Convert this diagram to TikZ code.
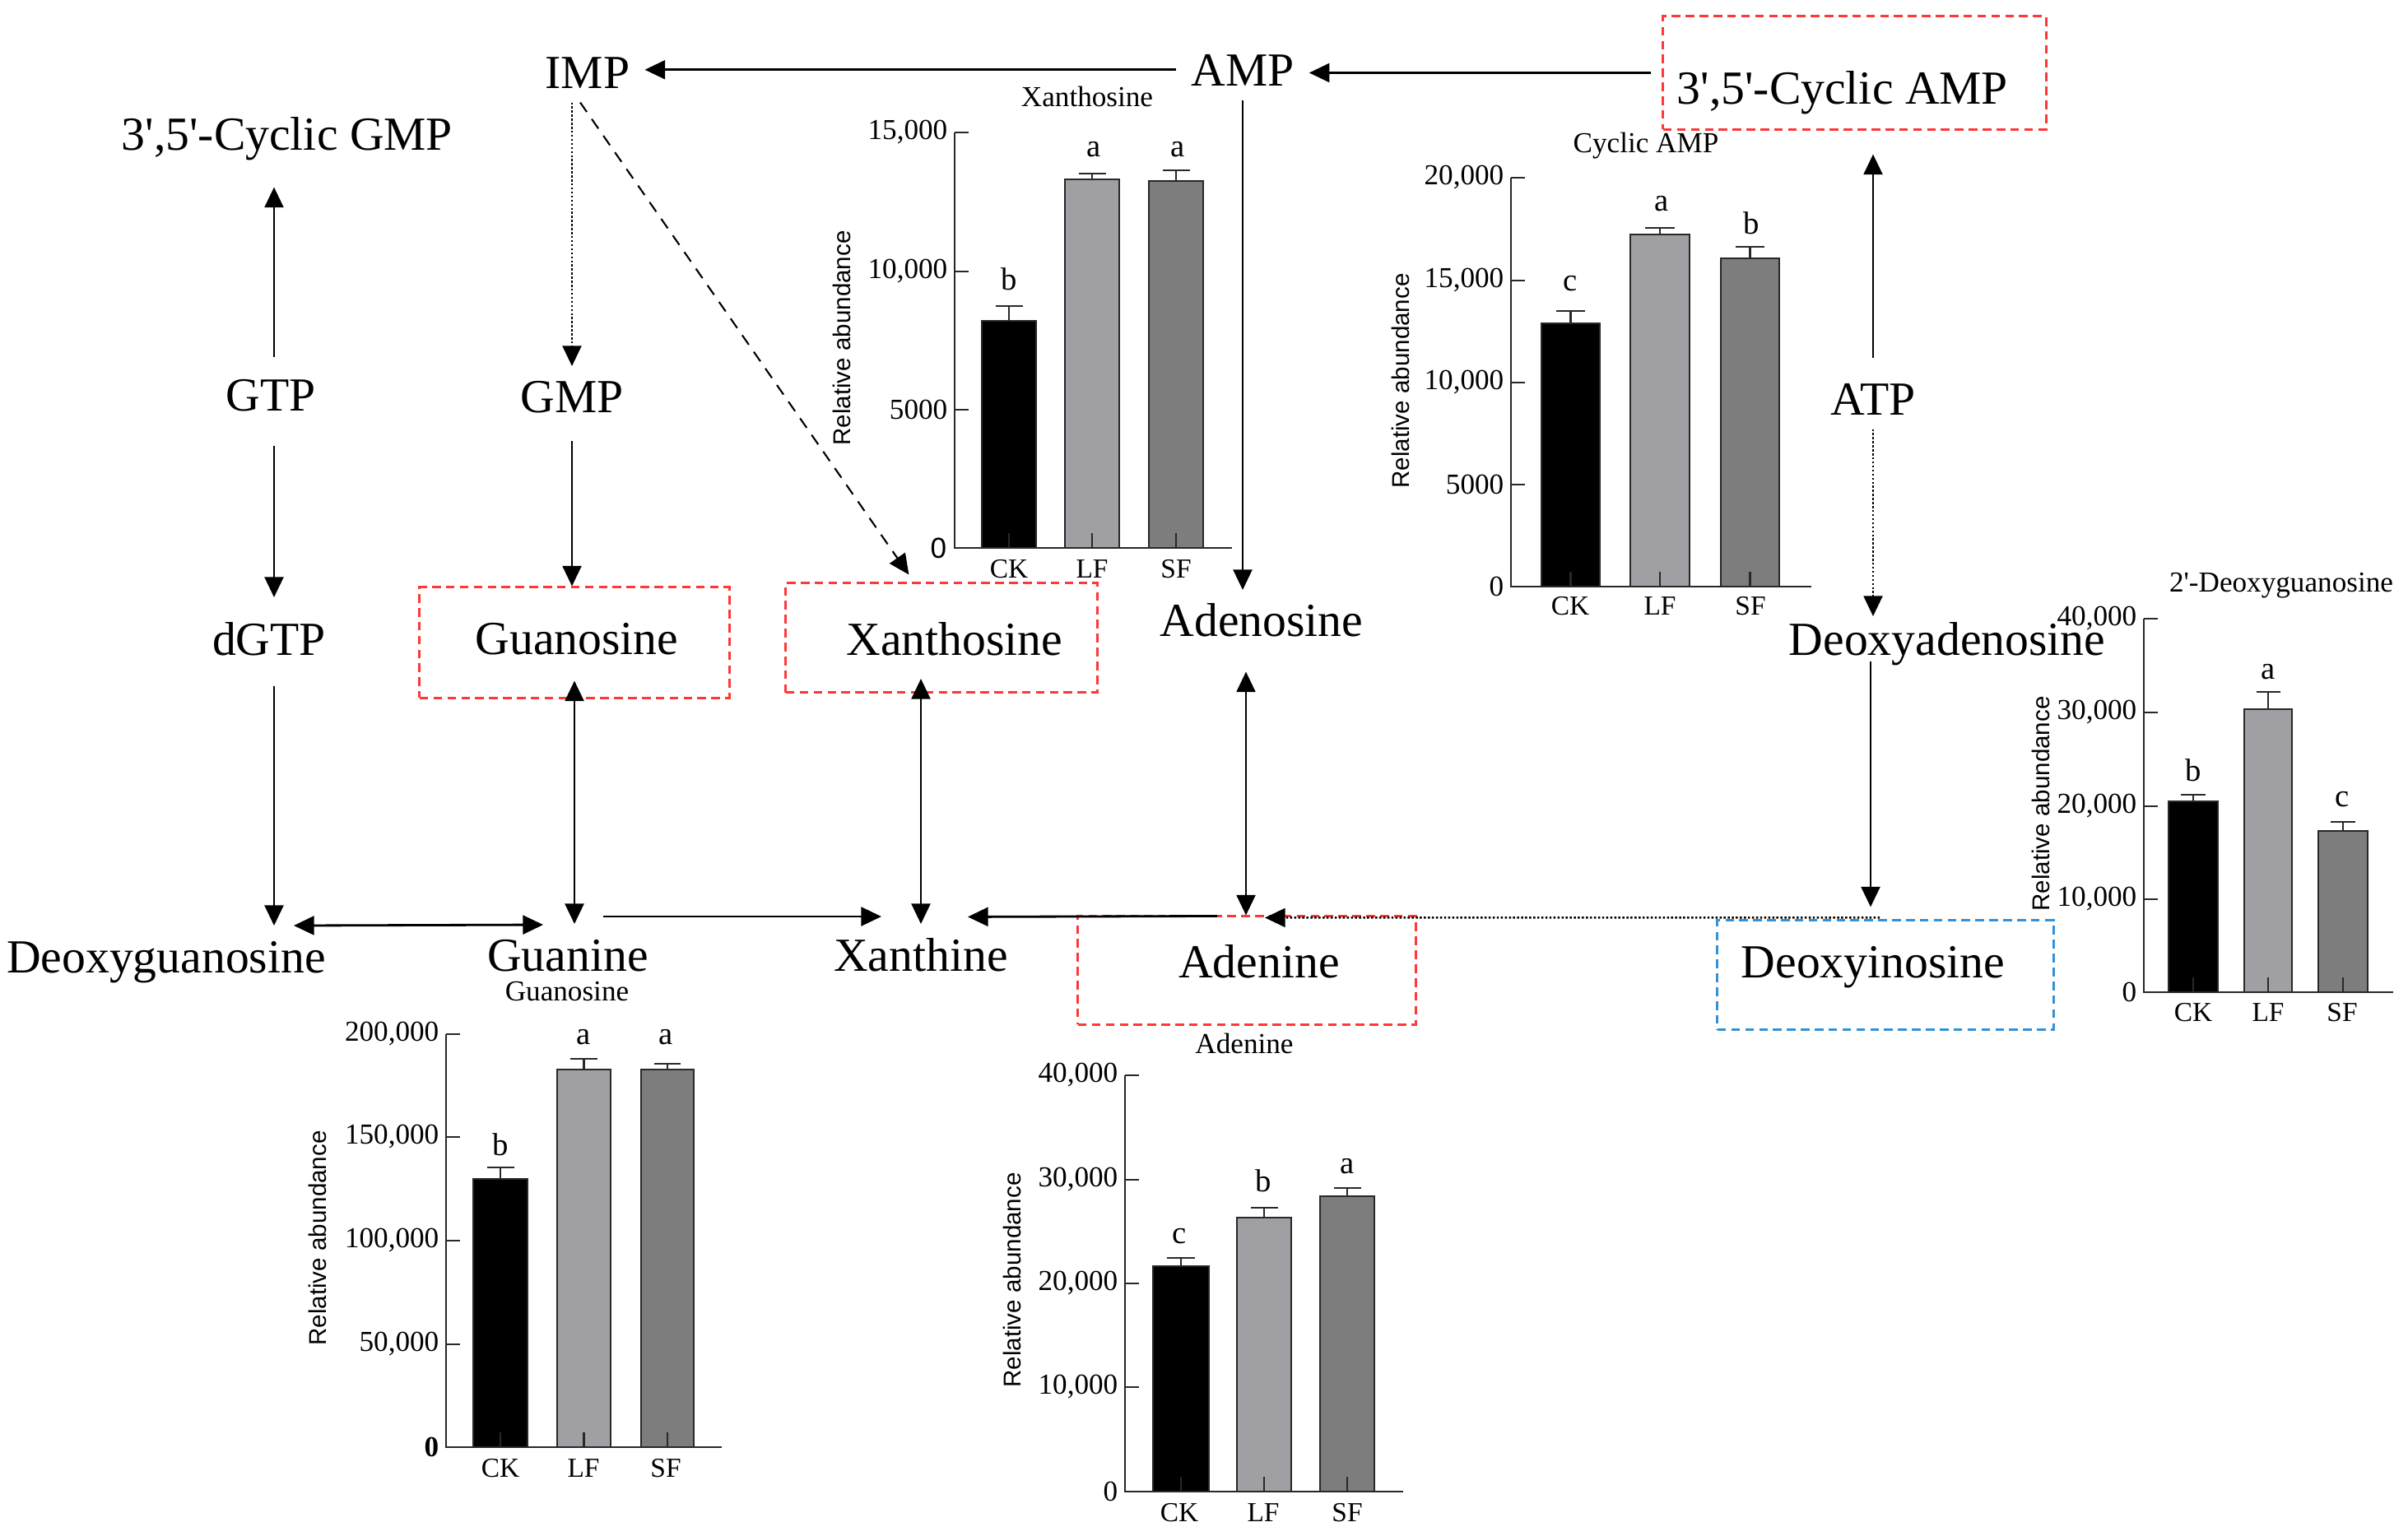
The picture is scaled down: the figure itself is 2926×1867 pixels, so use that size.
\documentclass[tikz,border=0pt]{standalone}
\usepackage{fontspec}
\setmainfont{Liberation Serif}
\setsansfont{Liberation Sans}
\usetikzlibrary{arrows.meta,calc}
\definecolor{boxred}{RGB}{255,55,55}
\definecolor{boxblue}{RGB}{50,145,215}
\definecolor{lfgray}{RGB}{160,160,164}
\definecolor{sfgray}{RGB}{125,125,125}
\definecolor{axgray}{RGB}{40,40,40}
\tikzset{
  lab/.style={font=\fontsize{16.4}{19}\selectfont, anchor=base, inner xsep=5pt, inner ysep=4.5pt, text height=11.5pt, text depth=0pt},
  redbox/.style={draw=boxred, dash pattern=on 3pt off 1.8pt, line width=0.85pt, inner sep=0pt},
  bluebox/.style={draw=boxblue, dash pattern=on 3pt off 1.8pt, line width=0.85pt, inner sep=0pt},
  tip/.tip={Triangle[length=7pt,width=6.5pt]},
  arr/.style={line width=0.8pt, -tip},
  darr/.style={line width=0.8pt, tip-tip},
  dotarr/.style={line width=0.7pt, -tip, dash pattern=on 0.7pt off 0.7pt},
  dasharr/.style={line width=0.6pt, -tip, dash pattern=on 4pt off 3pt},
  axline/.style={line width=0.8pt, draw=axgray},
  barline/.style={line width=0.7pt, draw=axgray},
  tlab/.style={anchor=east, inner sep=0pt, font=\fontsize{10}{12}\selectfont},
  cat/.style={inner sep=0pt, font=\fontsize{9.5}{11}\selectfont},
  sig/.style={anchor=base, inner sep=0pt, font=\fontsize{11}{13}\selectfont},
  ctitle/.style={anchor=base, inner sep=0pt, font=\fontsize{10}{12}\selectfont},
  rel/.style={inner sep=0pt, rotate=90, font=\sffamily\fontsize{8.4}{10}\selectfont},
}
\newcommand\mytick[4]{%
  \draw[axline] (#2,#3) -- (#2+17,#3);
  \node[tlab] (#1) at (#2-8,#3) {#4};
}
\newcommand\mybar[6]{%
  \fill[#6] (#1,#3) rectangle (#2,#4);
  \draw[barline] (#1,#3) rectangle (#2,#4);
  \draw[barline] ({(#1+#2)/2},#4) -- ({(#1+#2)/2},#5)
    ({(#1+#2)/2-(#2-#1)/4},#5) -- ({(#1+#2)/2+(#2-#1)/4},#5)
    ({(#1+#2)/2},#3) -- ({(#1+#2)/2},#3-18);
}
\begin{document}
\begin{tikzpicture}[x=0.01cm, y=-0.01cm]
\fill[white] (0,0) rectangle (2926,1867);
\useasboundingbox (0,0) rectangle (2926,1867);

% ---------- pathway nodes ----------
\node[lab] (IMP) at (714,108) {IMP};
\node[lab] (AMP) at (1510,105) {AMP};
\node[lab] (cGMP) at (349,183) {3\textquotesingle,5\textquotesingle-Cyclic GMP};
\node[lab] (GTP) at (329,500) {GTP};
\node[lab] (GMP) at (695,502) {GMP};
\node[lab] (ATP) at (2276,505) {ATP};
\node[lab] (dGTP) at (327,797) {dGTP};
\node[redbox, minimum width=3.76cm, minimum height=1.34cm] (gsbox) at (698,781) {};
\node[lab] (Guo) at (701,795) {Guanosine};
\node[redbox, minimum width=3.78cm, minimum height=1.33cm] (xsbox) at (1144,775) {};
\node[lab] (Xao) at (1160,797) {Xanthosine};
\node[lab] (Ado) at (1533,774) {Adenosine};
\node[lab] (dAdo) at (2366,796) {Deoxyadenosine};
\node[lab] (dGuo) at (202,1182) {Deoxyguanosine};
\node[lab] (Gua) at (690,1180) {Guanine};
\node[lab] (Xan) at (1119,1180) {Xanthine};
\node[redbox, minimum width=4.10cm, minimum height=1.31cm] (adbox) at (1515,1179.5) {};
\node[lab] (Ade) at (1530,1188) {Adenine};
\node[bluebox, minimum width=4.08cm, minimum height=1.32cm] (dibox) at (2291,1185) {};
\node[lab] (dIno) at (2276,1188) {Deoxyinosine};
\node[redbox, minimum width=4.65cm, minimum height=1.37cm] (cabox) at (2253.5,88.5) {};
\node[lab] (cAMP) at (2239,126.5) {3\textquotesingle,5\textquotesingle-Cyclic AMP};

% ---------- connectors ----------
\draw[arr] (AMP.west) -- (AMP.west -| IMP.east);
\draw[arr] ([xshift=-0.13cm]cabox.west) -- (cabox.west -| AMP.east);
\draw[arr] (AMP.south) -- (AMP.south |- Ado.north);
\draw[dotarr] (GMP.north |- IMP.south) -- (GMP.north);
\draw[dasharr] ([xshift=-0.09cm]IMP.south) -- ($(xsbox.north west)+(151,-8.5)$);
\draw[arr, shorten <=0.09cm, shorten >=0.28cm] ([xshift=0.04cm]GTP.north) -- ([xshift=0.04cm]GTP.north |- cGMP.south);
\draw[arr, shorten <=0.25cm, shorten >=0.14cm] ([xshift=0.04cm]GTP.south) -- ([xshift=0.04cm]GTP.south |- dGTP.north);
\draw[arr, shorten <=0.2cm] ([xshift=0.06cm]dGTP.south) -- ([xshift=0.06cm]dGTP.south |- dGuo.north);
\draw[arr, shorten <=0.17cm] (GMP.south) -- (GMP.south |- gsbox.north);
\draw[darr, shorten <=-0.22cm] (gsbox.south) -- (gsbox.south |- Gua.north);
\draw[darr] ($(dGuo.north)+(155,0)$) -- ($(Gua.north)+(-30,1)$);
\draw[arr] ($(Gua.north)+(43,-9)$) -- ($(Xan.north)+(-48,-9)$);
\draw[darr, shorten >=-0.18cm] (Xan.north) -- (Xan.north |- xsbox.south);
\draw[arr] ($(adbox.north)+(-36,1)$) -- ($(Xan.north)+(57,-8.6)$);
\draw[darr, shorten <=0.26cm] ([xshift=-0.19cm]Ado.south) -- ([xshift=-0.19cm]Ado.south |- adbox.north);
\draw[dotarr] ($(dibox.north)+(-7,-2)$) -- ($(adbox.north)+(22,3)$);
\draw[arr, shorten <=-0.09cm, shorten >=0.15cm] ([xshift=-0.03cm]ATP.south |- dAdo.south) -- ([xshift=-0.03cm]ATP.south |- dibox.north);
\draw[arr, shorten <=0.13cm, shorten >=0.29cm] (ATP.north) -- (ATP.north |- cabox.south);
\draw[dotarr, shorten >=-0.1cm] (ATP.south) -- (ATP.south |- dAdo.north);

% ---------- chart: Xanthosine ----------
\node[ctitle] (xtT) at (1321,130) {Xanthosine};
\mybar{1193}{1259}{666}{390}{372}{black}
\mybar{1294}{1360}{666}{218}{211}{lfgray}
\mybar{1396}{1462}{666}{220}{207}{sfgray}
\draw[axline] (1160,161) -- (1160,666) -- (1497,666);
\mytick{xt1}{1160}{161}{15,000}
\mytick{xt2}{1160}{330}{10,000}
\mytick{xt3}{1160}{498}{5000}
\node[tlab, font=\sffamily\fontsize{10}{12}\selectfont] (xt0) at (1151,666) {0};
\node[sig] (xtS1) at (1226,353) {b};
\node[sig] (xtS2) at (1329,191) {a};
\node[sig] (xtS3) at (1431,191) {a};
\node[cat] (xtC1) at (1226,692) {CK};
\node[cat] (xtC2) at (1327,692) {LF};
\node[cat] (xtC3) at (1429,692) {SF};
\node[rel] (xtR) at (1023,411) {Relative abundance};

% ---------- chart: Cyclic AMP ----------
\node[ctitle] (caT) at (2000,186) {Cyclic AMP};
\mybar{1873}{1944}{713}{393}{378}{black}
\mybar{1981}{2053}{713}{285}{277}{lfgray}
\mybar{2091}{2162}{713}{314}{300}{sfgray}
\draw[axline] (1836,216) -- (1836,713) -- (2201,713);
\mytick{ca1}{1836}{216}{20,000}
\mytick{ca2}{1836}{341}{15,000}
\mytick{ca3}{1836}{465}{10,000}
\mytick{ca4}{1836}{589}{5000}
\node[tlab] (ca0) at (1828,713) {0};
\node[sig] (caS1) at (1908,354) {c};
\node[sig] (caS2) at (2019,257) {a};
\node[sig] (caS3) at (2128,285) {b};
\node[cat] (caC1) at (1908,737) {CK};
\node[cat] (caC2) at (2017,737) {LF};
\node[cat] (caC3) at (2127,737) {SF};
\node[rel] (caR) at (1702,463) {Relative abundance};

% ---------- chart: 2'-Deoxyguanosine ----------
\node[ctitle] (dgT) at (2772,719) {2\textquotesingle-Deoxyguanosine};
\mybar{2635}{2695}{1206}{974}{966}{black}
\mybar{2727}{2785}{1206}{862}{841}{lfgray}
\mybar{2817}{2877}{1206}{1010}{999}{sfgray}
\draw[axline] (2605,752) -- (2605,1206) -- (2908,1206);
\mytick{dg1}{2605}{752}{40,000}
\mytick{dg2}{2605}{866}{30,000}
\mytick{dg3}{2605}{980}{20,000}
\mytick{dg4}{2605}{1093}{10,000}
\node[tlab] (dg0) at (2597,1206) {0};
\node[sig] (dgS1) at (2665,949) {b};
\node[sig] (dgS2) at (2756,825) {a};
\node[sig] (dgS3) at (2846,980) {c};
\node[cat] (dgC1) at (2665,1231) {CK};
\node[cat] (dgC2) at (2756,1231) {LF};
\node[cat] (dgC3) at (2846,1231) {SF};
\node[rel] (dgR) at (2480,977) {Relative abundance};

% ---------- chart: Guanosine ----------
\node[ctitle] (gsT) at (689,1216) {Guanosine};
\mybar{575}{641}{1759}{1433}{1419}{black}
\mybar{677}{742}{1759}{1300}{1287}{lfgray}
\mybar{779}{843}{1759}{1300}{1293}{sfgray}
\draw[axline] (542,1257) -- (542,1759) -- (877,1759);
\mytick{gs1}{542}{1257}{200,000}
\mytick{gs2}{542}{1382}{150,000}
\mytick{gs3}{542}{1508}{100,000}
\mytick{gs4}{542}{1634}{50,000}
\node[tlab, font=\bfseries\fontsize{10}{12}\selectfont] (gs0) at (534,1759) {0};
\node[sig] (gsS1) at (608,1404) {b};
\node[sig] (gsS2) at (709,1269) {a};
\node[sig] (gsS3) at (809,1269) {a};
\node[cat] (gsC1) at (608,1785) {CK};
\node[cat] (gsC2) at (709,1785) {LF};
\node[cat] (gsC3) at (809,1785) {SF};
\node[rel] (gsR) at (386,1505) {Relative abundance};

% ---------- chart: Adenine ----------
\node[ctitle] (adT) at (1512,1280) {Adenine};
\mybar{1401}{1469}{1813}{1539}{1529}{black}
\mybar{1503}{1569}{1813}{1480}{1468}{lfgray}
\mybar{1604}{1670}{1813}{1454}{1444}{sfgray}
\draw[axline] (1367,1307) -- (1367,1813) -- (1705,1813);
\mytick{ad1}{1367}{1307}{40,000}
\mytick{ad2}{1367}{1434}{30,000}
\mytick{ad3}{1367}{1560}{20,000}
\mytick{ad4}{1367}{1686}{10,000}
\node[tlab] (ad0) at (1359,1813) {0};
\node[sig] (adS1) at (1433,1511) {c};
\node[sig] (adS2) at (1535,1448) {b};
\node[sig] (adS3) at (1637,1426) {a};
\node[cat] (adC1) at (1433,1839) {CK};
\node[cat] (adC2) at (1535,1839) {LF};
\node[cat] (adC3) at (1637,1839) {SF};
\node[rel] (adR) at (1230,1556) {Relative abundance};
\end{tikzpicture}
\end{document}
